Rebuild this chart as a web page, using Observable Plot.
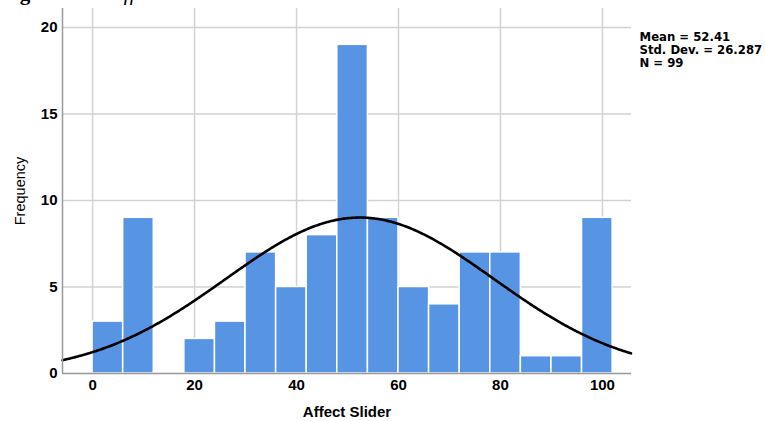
<!DOCTYPE html>
<html><head><meta charset="utf-8">
<script src="https://cdn.jsdelivr.net/npm/d3@7"></script>
<script src="https://cdn.jsdelivr.net/npm/@observablehq/plot@0.6"></script>
<style>
body{margin:0;background:#fff;overflow:hidden}
#wrap{position:relative;width:765px;height:421px}
.cap{position:absolute;top:-19px;font-family:"Liberation Serif",serif;font-size:21px;white-space:nowrap;color:#000}
svg{font-family:"Liberation Sans",Arial,sans-serif}
</style></head><body><div id="wrap">
<div class="cap" style="left:1px;font-weight:bold">Figure 1</div>
<div class="cap" style="left:111px;font-style:italic">Affect Slider</div>
</div>
<script>
const binStarts = [0, 6, 12, 18, 24, 30, 36, 42, 48, 54, 60, 66, 72, 78, 84, 90, 96];
const binWidth = 6;
const counts = [3, 9, 0, 2, 3, 7, 5, 8, 19, 9, 5, 4, 7, 7, 1, 1, 9];
const xTicks = [0, 20, 40, 60, 80, 100];
const yTicks = [0, 5, 10, 15, 20];
const statLines = ["Mean = 52.41", "Std. Dev. = 26.287", "N = 99"];
const mean = 52.41, sd = 26.287, n = 99;
const xDomain = [-5.9, 105.7];
const yDomain = [0, 21.1];

const bins = binStarts.map((s, i) => ({x1: s, x2: s + binWidth, count: counts[i]}));
// fitted normal curve from the stated statistics (scaled to counts)
const curve = d3.range(xDomain[0], xDomain[1] + 0.01, 0.25).map(x => ({
  x, y: n * binWidth / (sd * Math.sqrt(2 * Math.PI)) * Math.exp(-((x - mean) ** 2) / (2 * sd * sd))
}));

const chart = Plot.plot({
  width: 765, height: 421,
  marginLeft: 62, marginRight: 134, marginTop: 8, marginBottom: 48,
  style: {fontFamily: "Liberation Sans, Arial, sans-serif", fontSize: "13px", background: "white", color: "#000"},
  x: {domain: xDomain, ticks: xTicks, label: null},
  y: {domain: yDomain, ticks: yTicks, label: null},
  marks: [
    Plot.ruleX(xTicks, {stroke: "#d2d2d2", strokeWidth: 1.5}),
    Plot.ruleY(yTicks.filter(d => d > 0), {stroke: "#d2d2d2", strokeWidth: 1.5}),
    Plot.rectY(bins, {x1: "x1", x2: "x2", y: "count", fill: "#5794e3", stroke: "white", strokeWidth: 1.5}),
    Plot.line(curve, {x: "x", y: "y", stroke: "black", strokeWidth: 2.6}),
    Plot.ruleY([yDomain[0]], {stroke: "#999", strokeWidth: 1.5}),
    Plot.ruleX([xDomain[0]], {stroke: "#999", strokeWidth: 1.5}),
    Plot.axisX({ticks: xTicks, tickSize: 0, tickPadding: 6, fontWeight: "bold", fontSize: 15,
      label: "Affect Slider", labelArrow: "none", labelAnchor: "center", labelOffset: 43}),
    Plot.axisY({ticks: yTicks, tickSize: 0, tickPadding: 5, fontWeight: "bold", fontSize: 15,
      label: "Frequency", labelArrow: "none", labelAnchor: "center", labelOffset: 48}),
    Plot.text([statLines.join("\n")], {frameAnchor: "top-right", textAnchor: "start", lineAnchor: "top",
      dx: 8, dy: 23, fontWeight: "bold", fontSize: 11.7, fontFamily: "DejaVu Sans", lineHeight: 1.11, fill: "black"})
  ]
});
const s = d3.select(chart);
s.selectAll("[aria-label='x-axis label'] text, [aria-label='y-axis label'] text")
  .text(function() { return this.textContent.replace(/[\u2191\u2192\u2190\u2193]/g, "").trim(); });
s.selectAll("[aria-label='x-axis label'] text").style("font-weight", "bold").style("font-size", "15px");
s.selectAll("[aria-label='y-axis label'] text").style("font-weight", "normal").style("font-size", "14.5px");
document.getElementById("wrap").appendChild(chart);
</script>
</body></html>
